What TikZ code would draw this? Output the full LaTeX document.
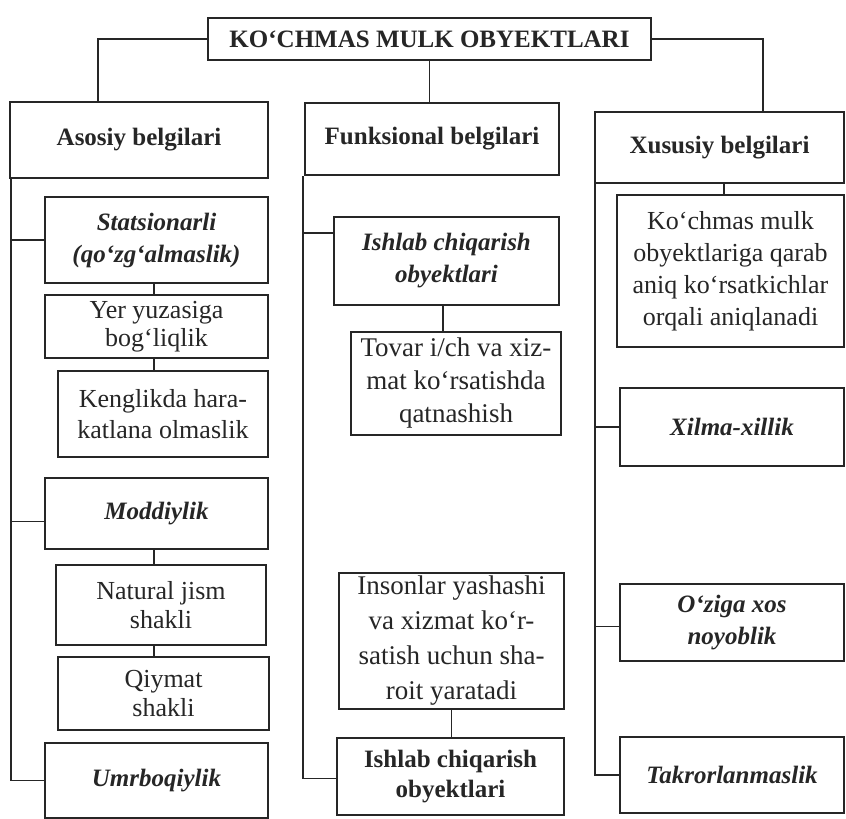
\documentclass[tikz,border=0pt]{standalone}
\usepackage{fontspec}
\setmainfont{Liberation Serif}
\usepackage{tikz}
\usetikzlibrary{positioning,calc}
\definecolor{ink}{RGB}{38,38,38}

\begin{document}
\begin{tikzpicture}[x=1pt, y=-1pt,
  font=\fontsize{26}{31}\selectfont,
  titlebox/.style={draw=ink, line width=2.4pt, fill=white, text=ink, align=center,
              inner sep=0pt, font=\fontsize{25}{30}\selectfont\bfseries},
  headbox/.style={draw=ink, line width=2.2pt, fill=white, text=ink, align=center,
              inner sep=0pt, font=\fontsize{25}{30}\selectfont\bfseries},
  keybox/.style={draw=ink, line width=2.2pt, fill=white, text=ink, align=center,
              inner sep=0pt, font=\fontsize{25}{32}\selectfont\bfseries\itshape},
  notebox/.style={draw=ink, line width=1.3pt, fill=white, text=ink, align=center,
              inner sep=0pt},
  link/.style={draw=ink, line width=1.7pt},
  sublink/.style={draw=ink, line width=1.2pt}]
\useasboundingbox (0,0) rectangle (846,819);
% top and the three groups
\node[titlebox, minimum width=443pt, minimum height=42pt] (root) at (429.5,39) {KO‘CHMAS MULK OBYEKTLARI};
\node[headbox, minimum width=258pt, minimum height=76pt] (asosiy) at (139,140) {Asosiy belgilari};
\node[headbox, minimum width=254pt, minimum height=72pt] (funks) at (432,139) {Funksional belgilari};
\node[headbox, minimum width=249pt, minimum height=71pt] (xususiy) at (719.5,147.5) {Xususiy belgilari};
% left column
\node[keybox, minimum width=223pt, minimum height=86pt] (stats) at (156.5,240) {Statsionarli\\(qo‘zg‘almaslik)};
\node[notebox, line width=2pt, minimum width=223pt, minimum height=63pt, font=\fontsize{26}{28}\selectfont] (yer) at (156.5,326.5) {Yer yuzasiga\\bog‘liqlik};
\node[notebox, minimum width=210pt, minimum height=86pt] (keng) at (163,414) {Kenglikda hara-\\katlana olmaslik};
\node[keybox, minimum width=223pt, minimum height=71pt] (moddiy) at (156.5,513.5) {Moddiylik};
\node[notebox, minimum width=210pt, minimum height=80pt, font=\fontsize{26}{29}\selectfont] (natural) at (161,605) {Natural jism\\shakli};
\node[notebox, minimum width=211pt, minimum height=73pt, font=\fontsize{26}{29}\selectfont] (qiymat) at (163.5,693.5) {Qiymat\\shakli};
\node[keybox, minimum width=223pt, minimum height=75pt] (umr) at (156.5,780.5) {Umrboqiylik};
% middle column
\node[keybox, minimum width=225pt, minimum height=88pt] (ishlabA) at (446.5,261) {Ishlab chiqarish\\obyektlari};
\node[notebox, minimum width=210pt, minimum height=103pt, font=\fontsize{27}{33}\selectfont] (tovar) at (456,383.5) {Tovar i/ch va xiz-\\mat ko‘rsatishda\\qatnashish};
\node[notebox, line width=2pt, minimum width=225pt, minimum height=136pt, font=\fontsize{27}{35}\selectfont] (inson) at (451.5,641) {Insonlar yashashi\\va xizmat ko‘r-\\satish uchun sha-\\roit yaratadi};
\node[headbox, minimum width=227pt, minimum height=77pt] (ishlabB) at (450.5,776.5) {Ishlab chiqarish\\obyektlari};
% right column
\node[notebox, minimum width=227pt, minimum height=152pt, font=\fontsize{26}{32}\selectfont] (kochmas) at (730.5,271) {Ko‘chmas mulk\\obyektlariga qarab\\aniq ko‘rsatkichlar\\orqali aniqlanadi};
\node[keybox, minimum width=224pt, minimum height=78pt] (xilma) at (732,427) {Xilma-xillik};
\node[keybox, minimum width=224pt, minimum height=77pt] (oziga) at (732,622.5) {O‘ziga xos\\noyoblik};
\node[keybox, minimum width=224pt, minimum height=76pt] (takror) at (732,775) {Takrorlanmaslik};
% links from the top
\draw[link] (root.west) -| ([xshift=-41pt]asosiy.north);
\draw[link] (root.east) -| ([xshift=43.5pt]xususiy.north);
\draw[link] (root.south) -- (root.south |- funks.north);
% trunks
\coordinate (trunkA) at ([xshift=2pt]asosiy.south west);
\coordinate (trunkB) at ([xshift=-1pt]funks.south west);
\coordinate (trunkC) at ([xshift=1pt]xususiy.south west);
\coordinate (moddiyIn) at ($(moddiy.west)+(0,8)$);
\coordinate (ishlabIn) at ($(ishlabA.west)+(0,-28)$);
\coordinate (ozigaIn) at ($(oziga.west)+(0,4)$);
\draw[link] (trunkA) |- (umr.west);
\draw[link] (stats.west) -- (stats.west -| trunkA);
\draw[link] (moddiyIn) -- (moddiyIn -| trunkA);
\draw[link] (trunkB) |- ([yshift=-2pt]ishlabB.west);
\draw[link] (ishlabIn) -- (ishlabIn -| trunkB);
\draw[link] (trunkC) |- (takror.west);
\draw[link] (xilma.west) -- (xilma.west -| trunkC);
\draw[link] (ozigaIn) -- (ozigaIn -| trunkC);
% inner links
\draw[sublink] ([xshift=-2.5pt]stats.south) -- ([xshift=-2.5pt]stats.south |- yer.north);
\draw[sublink] ([xshift=-2.5pt]yer.south) -- ([xshift=-2.5pt]yer.south |- keng.north);
\draw[sublink] ([xshift=-2.5pt]moddiy.south) -- ([xshift=-2.5pt]moddiy.south |- natural.north);
\draw[sublink] ([xshift=-7pt]natural.south) -- ([xshift=-7pt]natural.south |- qiymat.north);
\draw[sublink] ([xshift=-3.5pt]ishlabA.south) -- ([xshift=-3.5pt]ishlabA.south |- tovar.north);
\draw[sublink] (inson.south) -- (inson.south |- ishlabB.north);
\draw[sublink] ([xshift=4.5pt]xususiy.south) -- ([xshift=4.5pt]xususiy.south |- kochmas.north);
\end{tikzpicture}
\end{document}
